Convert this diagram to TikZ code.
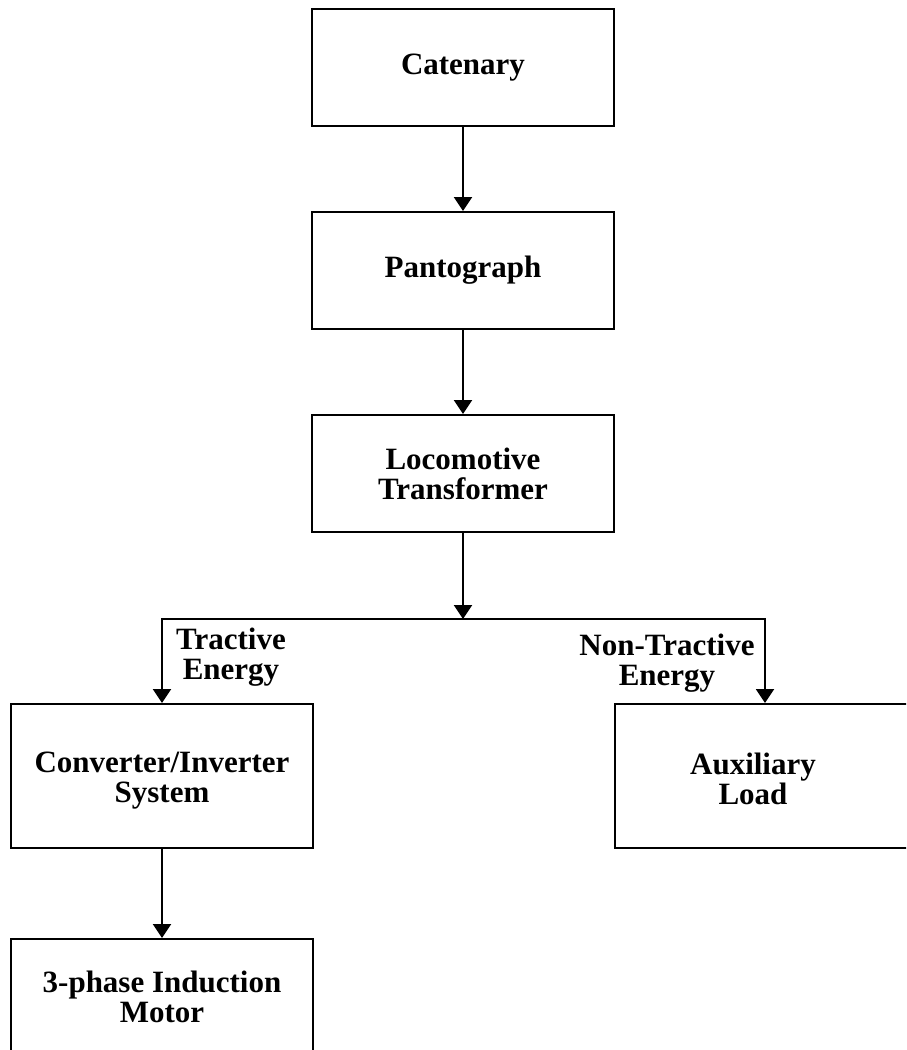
\documentclass[tikz,border=0pt]{standalone}
\usepackage{fontspec}
\setmainfont{Liberation Serif}
\usetikzlibrary{arrows.meta}
\begin{document}
\begin{tikzpicture}[x=1pt,y=-1pt,
  box/.style={draw=black,line width=2pt,rectangle,inner sep=0pt},
  lbl/.style={font=\fontsize{31}{30}\selectfont\bfseries,align=center,inner sep=0pt},
  arr/.style={line width=2pt,line join=miter,-{Triangle[width=18pt,length=14pt]}}]
\clip (0,0) rectangle (906,1050);
\fill[white] (0,0) rectangle (906,1050);
\node[box,minimum width=302pt,minimum height=117pt,lbl] (cat) at (463,67.5) {Catenary};
\node[box,minimum width=302pt,minimum height=117pt,lbl] (pan) at (463,270.5) {Pantograph};
\node[box,minimum width=302pt,minimum height=117pt,lbl] (loc) at (463,473.5) {Locomotive\\Transformer};
\node[box,minimum width=302pt,minimum height=144pt] (conv) at (162,776) {};
\node[lbl] (convtxt) at (162,781) {Converter/Inverter\\System};
\node[box,minimum width=300pt,minimum height=144pt] (aux) at (765,776) {};
\node[lbl] (auxtxt) at (753,779) {Auxiliary\\Load};
\node[box,minimum width=302pt,minimum height=117pt] (mot) at (162,997.5) {};
\node[lbl] (mottxt) at (162,997) {3-phase Induction\\Motor};
\coordinate (split) at (463,619);
\draw[arr] (cat) -- (pan);
\draw[arr] (pan) -- (loc);
\draw[arr] (loc) -- (split);
\draw[arr] (split) -| (conv.north);
\draw[arr] (split) -| (aux.north);
\draw[arr] (conv) -- (mot);
\node[lbl] (tract) at (231,657) {Tractive\\Energy};
\node[lbl] (ntract) at (667,663) {Non-Tractive\\Energy};
\end{tikzpicture}
\end{document}
